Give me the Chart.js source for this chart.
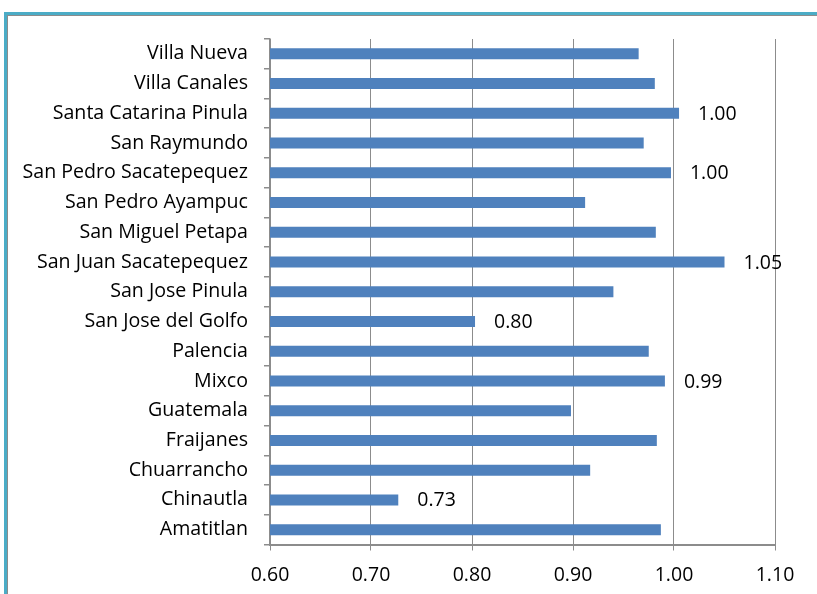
<!DOCTYPE html>
<html>
<head>
<meta charset="utf-8">
<script src="https://cdn.jsdelivr.net/npm/chart.js@4"></script>
<style>
  html, body { margin: 0; padding: 0; background: #fff; }
  #wrap { position: relative; width: 817px; height: 594px; overflow: hidden; }
  #frame { position: absolute; left: 4px; top: 12px; width: 1000px; height: 800px;
           border-left: 3px solid #4bacc6; border-top: 3px solid #4bacc6; }
  #frame2 { position: absolute; left: 7px; top: 15px; width: 1000px; height: 800px;
           border-left: 1px solid #8c8c8c; border-top: 1px solid #8c8c8c; }
  canvas { position: absolute; left: 0; top: 0; }
</style>
</head>
<body>
<div id="wrap">
  <div id="frame"></div>
  <div id="frame2"></div>
  <canvas id="c" width="817" height="594"></canvas>
</div>
<script>
const categories = [
  "Villa Nueva", "Villa Canales", "Santa Catarina Pinula", "San Raymundo",
  "San Pedro Sacatepequez", "San Pedro Ayampuc", "San Miguel Petapa",
  "San Juan Sacatepequez", "San Jose Pinula", "San Jose del Golfo",
  "Palencia", "Mixco", "Guatemala", "Fraijanes", "Chuarrancho",
  "Chinautla", "Amatitlan"
];
const values = [
  0.965, 0.981, 1.005, 0.970,
  0.997, 0.912, 0.982,
  1.050, 0.940, 0.803,
  0.975, 0.991, 0.898, 0.983, 0.917,
  0.727, 0.987
];
const valueLabels = [
  null, null, "1.00", null,
  "1.00", null, null,
  "1.05", null, "0.80",
  null, "0.99", null, null, null,
  "0.73", null
];
const tickValues = [0.6, 0.7, 0.8, 0.9, 1.0, 1.1];

const FONT = "'Open Sans', sans-serif";

const labelPlugin = {
  id: 'valueLabels',
  afterDatasetsDraw(chart) {
    const ctx = chart.ctx;
    const meta = chart.getDatasetMeta(0);
    ctx.save();
    ctx.font = "19.5px " + FONT;
    ctx.fillStyle = "#000";
    ctx.textAlign = "left";
    ctx.textBaseline = "middle";
    meta.data.forEach((bar, i) => {
      const t = valueLabels[i];
      if (!t) return;
      ctx.fillText(t, bar.x + 19, bar.y + 1);
    });
    ctx.restore();
  }
};

new Chart(document.getElementById('c'), {
  type: 'bar',
  data: {
    labels: categories,
    datasets: [{
      data: values,
      backgroundColor: '#4f81bd',
      borderWidth: 0,
      barPercentage: 0.37,
      categoryPercentage: 1.0
    }]
  },
  options: {
    indexAxis: 'y',
    responsive: false,
    animation: false,
    devicePixelRatio: 1,
    layout: { padding: { left: 0, right: 42, top: 39, bottom: 0 } },
    plugins: { legend: { display: false }, tooltip: { enabled: false } },
    scales: {
      x: {
        min: 0.6, max: 1.1,
        afterBuildTicks(scale) { scale.ticks = tickValues.map(v => ({ value: v })); },
        afterFit(scale) { scale.height = 49.5; },
        grid: { color: '#8c8c8c', lineWidth: 1, drawTicks: true, tickLength: 6, tickColor: '#8c8c8c' },
        border: { display: true, color: '#8c8c8c', width: 2 },
        ticks: {
          color: '#000', padding: 13,
          font: { family: FONT, size: 19.5 },
          callback: (v) => Number(v).toFixed(2)
        }
      },
      y: {
        afterFit(scale) { scale.width = 270; },
        grid: { display: true, drawOnChartArea: false, drawTicks: true, tickLength: 6, color: '#8c8c8c', lineWidth: 1.5 },
        border: { display: true, color: '#8c8c8c', width: 1.5 },
        ticks: {
          color: '#000', padding: 16,
          font: { family: FONT, size: 19.6 },
          autoSkip: false
        }
      }
    }
  },
  plugins: [labelPlugin]
});
</script>
</body>
</html>
